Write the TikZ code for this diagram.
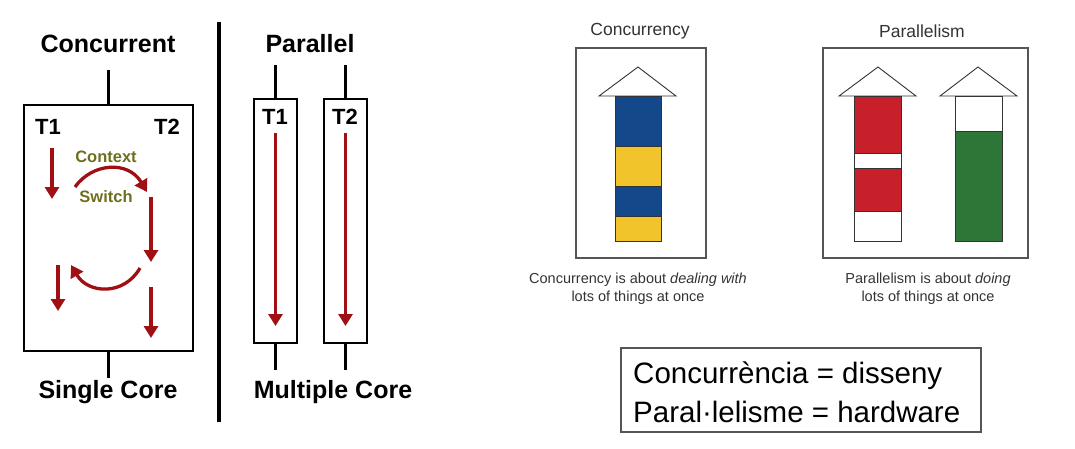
\documentclass[tikz,border=0pt]{standalone}
\usepackage{fontspec}
\setmainfont{Liberation Sans}
\usetikzlibrary{arrows.meta}
\definecolor{arrred}{HTML}{A00F14}
\definecolor{olivetxt}{HTML}{6E6E1E}
\definecolor{cblue}{HTML}{13488A}
\definecolor{cyellow}{HTML}{F0C42A}
\definecolor{cred}{HTML}{C8202A}
\definecolor{cgreen}{HTML}{2E7538}
\definecolor{pgray}{HTML}{555555}
\definecolor{tgray}{HTML}{333333}
\begin{document}
\begin{tikzpicture}[x=1pt,y=-1pt,
  bigtxt/.style={font=\fontsize{25}{30}\selectfont\bfseries, inner sep=0pt},
  ttxt/.style={font=\fontsize{22}{26}\selectfont\bfseries, inner sep=0pt},
  cstxt/.style={font=\fontsize{16.5}{20}\selectfont\bfseries, text=olivetxt, inner sep=0pt},
  blackbox/.style={draw, line width=2.5pt, inner sep=0pt},
  conn/.style={line width=2.5pt},
  redarr/.style={draw=arrred, line width=3.3pt, -{Triangle[width=14pt,length=12pt]}},
  panel/.style={draw=pgray, line width=1.2pt, inner sep=0pt},
  ptitle/.style={font=\fontsize{17.5}{21}\selectfont, text=tgray, inner sep=0pt},
  pcap/.style={font=\fontsize{14.5}{17}\selectfont, text=tgray, inner sep=0pt},
  seg/.style={draw=tgray, line width=0.9pt},
  head/.style={draw=tgray, line width=0.9pt, fill=white, line join=miter}
]
\useasboundingbox (0,0) rectangle (1075,448);

% ---------- Concurrent / single core ----------
\node[bigtxt] (concur) at (108,44) {Concurrent};
\node[blackbox, minimum width=169pt, minimum height=246pt] (cbox) at (108.5,228) {};
\coordinate (ctop) at (108.5,70);
\coordinate (cbot) at (108.5,378);
\draw[conn] (ctop) -- (cbox.north);
\draw[conn] (cbox.south) -- (cbot);
\node[bigtxt] (single) at (108,392) {Single Core};
\node[ttxt] (ct1) at (48,127) {T1};
\node[ttxt] (ct2) at (167,127) {T2};
\node[cstxt] (ctx) at (106,157) {Context};
\node[cstxt] (sw) at (106,197) {Switch};

\coordinate (a1s) at (52,148);  \coordinate (a1e) at (52,199);
\coordinate (a2s) at (151,197); \coordinate (a2e) at (151,262);
\coordinate (a3s) at (58,265);  \coordinate (a3e) at (58,311);
\coordinate (a4s) at (151,287); \coordinate (a4e) at (151,338);
\coordinate (cs1) at (75,187);  \coordinate (cs2) at (147,192);
\coordinate (rs1) at (140,268); \coordinate (rs2) at (71,265);
\draw[redarr] (a1s) -- (a1e);
\draw[redarr] (a2s) -- (a2e);
\draw[redarr] (a3s) -- (a3e);
\draw[redarr] (a4s) -- (a4e);
\draw[redarr] (cs1) .. controls (92,163) and (128,160) .. (cs2);
\draw[redarr] (rs1) .. controls (124,296) and (88,294) .. (rs2);

% divider
\coordinate (dtop) at (219,22);
\coordinate (dbot) at (219,422);
\draw[line width=3.5pt] (dtop) -- (dbot);

% ---------- Parallel / multiple core ----------
\node[bigtxt] (para) at (310,44) {Parallel};
\node[blackbox, minimum width=43pt, minimum height=244pt] (pb1) at (275.5,221) {};
\node[blackbox, minimum width=43pt, minimum height=244pt] (pb2) at (345.5,221) {};
\coordinate (p1top) at (275.5,65); \coordinate (p1bot) at (275.5,370);
\coordinate (p2top) at (345.5,65); \coordinate (p2bot) at (345.5,370);
\draw[conn] (p1top) -- (pb1.north);
\draw[conn] (pb1.south) -- (p1bot);
\draw[conn] (p2top) -- (pb2.north);
\draw[conn] (pb2.south) -- (p2bot);
\node[ttxt] (pt1) at (275,117) {T1};
\node[ttxt] (pt2) at (345,117) {T2};
\coordinate (pa1s) at (275.5,133); \coordinate (pa1e) at (275.5,326);
\coordinate (pa2s) at (345.5,133); \coordinate (pa2e) at (345.5,326);
\draw[redarr] (pa1s) -- (pa1e);
\draw[redarr] (pa2s) -- (pa2e);
\node[bigtxt] (multi) at (333,392) {Multiple Core};

% ---------- Concurrency panel ----------
\node[ptitle] (conctitle) at (640,31) {Concurrency};
\node[panel, minimum width=130pt, minimum height=210pt] (cpanel) at (641,153) {};
\draw[head] (599,96) -- (638,67) -- (676,96) -- cycle;
\filldraw[seg, fill=cblue]   (615,96)  rectangle (661,146);
\filldraw[seg, fill=cyellow] (615,146) rectangle (661,186);
\filldraw[seg, fill=cblue]   (615,186) rectangle (661,216);
\filldraw[seg, fill=cyellow] (615,216) rectangle (661,241);
\node[pcap] (conccap1) at (638,280) {Concurrency is about \textit{dealing with}};
\node[pcap] (conccap2) at (638,298) {lots of things at once};

% ---------- Parallelism panel ----------
\node[ptitle] (partitle) at (922,31) {Parallelism};
\node[panel, minimum width=205pt, minimum height=210pt] (ppanel) at (925.5,153) {};
\draw[head] (839,96) -- (878,67) -- (916,96) -- cycle;
\filldraw[seg, fill=cred]  (854,96)  rectangle (901,153);
\filldraw[seg, fill=white] (854,153) rectangle (901,168);
\filldraw[seg, fill=cred]  (854,168) rectangle (901,211);
\filldraw[seg, fill=white] (854,211) rectangle (901,241);
\draw[head] (940,96) -- (978,67) -- (1017,96) -- cycle;
\filldraw[seg, fill=white]  (955,96)  rectangle (1002,131);
\filldraw[seg, fill=cgreen] (955,131) rectangle (1002,241);
\node[pcap] (parcap1) at (928,280) {Parallelism is about \textit{doing}};
\node[pcap] (parcap2) at (928,298) {lots of things at once};

% ---------- summary box ----------
\node[draw=pgray, line width=1.3pt, minimum width=360pt, minimum height=84pt, inner sep=0pt] (sumbox) at (801,390) {};
\node[anchor=west, align=left, inner sep=0pt, font=\fontsize{29.5}{39}\selectfont] (sumtxt) at (633,392) {Concurrència = disseny\\Paral·lelisme = hardware};
\end{tikzpicture}
\end{document}
